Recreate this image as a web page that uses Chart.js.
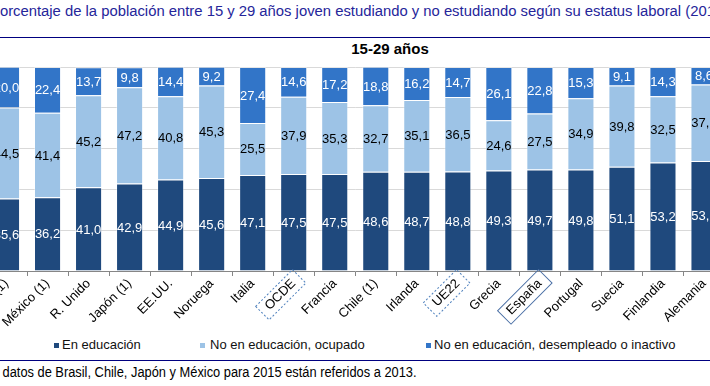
<!DOCTYPE html>
<html><head><meta charset="utf-8">
<script src="https://cdn.jsdelivr.net/npm/chart.js@4.4.1/dist/chart.umd.min.js"></script>
<style>
html,body{margin:0;padding:0;background:#fff;overflow:hidden;width:710px;height:386px;position:relative;font-family:"Liberation Sans",Arial,sans-serif}
#wrap{position:absolute;left:-80px;top:0;width:940px;height:330px}
.abs{position:absolute;white-space:nowrap}
.sq{position:absolute;width:5px;height:5px}
.lt{position:absolute;font-size:13px;color:#111;white-space:nowrap}
</style></head><body>
<div id="sub" class="abs" style="top:3px;left:0;color:#25259a;font-size:14px;transform-origin:0 0"><span class="pre">P</span><span class="vis">orcentaje de la población entre 15 y 29 años joven estudiando y no estudiando según su estatus laboral (201</span><span>5)</span></div>
<div class="abs" style="left:0;top:37px;width:710px;height:1px;background:#000080"></div>
<div class="abs" style="left:0;top:40px;width:780px;text-align:center;font-weight:bold;font-size:15px;color:#000">15-29 años</div>
<div id="wrap"><canvas id="c" width="940" height="330"></canvas></div>
<div id="legend"></div>
<div class="abs" style="left:0;top:360px;width:710px;height:1px;background:#000080"></div>
<div id="foot" class="abs" style="top:364px;left:0;color:#000;font-size:14px;transform-origin:0 0"><span class="pre">(1) Los </span><span class="vis">datos de Brasil, Chile, Japón y México para 2015 están referidos a 2013.</span></div>
<script>
const categories = ["Brasil (1)","México (1)","R. Unido","Japón (1)","EE.UU.","Noruega","Italia","OCDE","Francia","Chile (1)","Irlanda","UE22","Grecia","España","Portugal","Suecia","Finlandia","Alemania"];
const enEducacion = [35.6,36.2,41.0,42.9,44.9,45.6,47.1,47.5,47.5,48.6,48.7,48.8,49.3,49.7,49.8,51.1,53.2,53.9];
const noEducOcupado = [44.5,41.4,45.2,47.2,40.8,45.3,25.5,37.9,35.3,32.7,35.1,36.5,24.6,27.5,34.9,39.8,32.5,37.5];
const noEducDesempleado = [20.0,22.4,13.7,9.8,14.4,9.2,27.4,14.6,17.2,18.8,16.2,14.7,26.1,22.8,15.3,9.1,14.3,8.6];
const seriesNames = ["En educación","No en educación, ocupado","No en educación, desempleado o inactivo"];
const seriesColors = ["#1F497D","#9DC3E6","#3275C8"];
const labelColors = ["#ffffff","#000000","#ffffff"];
const dashedBoxes = ["OCDE","UE22"];
const solidBoxes = ["España"];
const FONT = '"Liberation Sans", Arial, sans-serif';

// fit texts using DOM measurement
function fitText(id, targetLeft, targetWidth){
  const el = document.getElementById(id);
  const wp = el.querySelector('.pre').getBoundingClientRect().width;
  const wv = el.querySelector('.vis').getBoundingClientRect().width;
  const s = targetWidth / wv;
  el.style.transform = 'scaleX(' + s + ')';
  el.style.left = (targetLeft - wp * s) + 'px';
}
fitText('sub', 0, 715);
fitText('foot', 3, 414);

// legend
const legPos = [[54,62],[200,210],[426,434]];
const leg = document.getElementById('legend');
seriesNames.forEach((n,i)=>{
  const s = document.createElement('div'); s.className='sq';
  s.style.left = legPos[i][0]+'px'; s.style.top='343px'; s.style.background=seriesColors[i];
  const t = document.createElement('div'); t.className='lt';
  t.style.left = legPos[i][1]+'px'; t.style.top='337px'; t.textContent=n;
  leg.appendChild(s); leg.appendChild(t);
});

const valueLabels = {
  id:'valueLabels',
  afterDatasetsDraw(chart){
    const ctx = chart.ctx;
    ctx.save();
    ctx.font = '13px ' + FONT;
    ctx.textAlign = 'center';
    ctx.textBaseline = 'middle';
    chart.data.datasets.forEach((ds,i)=>{
      const meta = chart.getDatasetMeta(i);
      ctx.fillStyle = labelColors[i];
      meta.data.forEach((bar,j)=>{
        const v = ds.data[j];
        if (v == null) return;
        const p = bar.getProps(['x','y','base'], true);
        ctx.fillText(v.toFixed(1).replace('.',','), p.x, (p.y + p.base)/2 + 1);
      });
    });
    ctx.restore();
  }
};

const labelBoxes = {
  id:'labelBoxes',
  afterDraw(chart){
    const scale = chart.scales.x;
    const items = scale.getLabelItems(chart.chartArea);
    const ctx = chart.ctx;
    items.forEach(it=>{
      const lab = it.label;
      const dashed = dashedBoxes.includes(lab);
      const solid = solidBoxes.includes(lab);
      if (!dashed && !solid) return;
      const o = it.options;
      ctx.save();
      ctx.font = it.font.string;
      const w = ctx.measureText(lab).width;
      const h = it.font.lineHeight;
      ctx.translate(o.translation[0], o.translation[1]);
      ctx.rotate(o.rotation);
      let x0;
      if (o.textAlign === 'right') x0 = -w; else if (o.textAlign === 'center') x0 = -w/2; else x0 = 0;
      let y0;
      const off = it.textOffset;
      if (o.textBaseline === 'middle') y0 = off - h/2; else if (o.textBaseline === 'top') y0 = off; else y0 = off - h;
      ctx.strokeStyle = dashed ? '#4F81BD' : '#4a6fa5';
      ctx.lineWidth = 1;
      if (dashed) ctx.setLineDash([2,2]);
      ctx.strokeRect(Math.round(x0 - 7)+0.5, Math.round(y0 - 2)+0.5, Math.round(w + 14), Math.round(h + 3));
      ctx.restore();
    });
  }
};

new Chart(document.getElementById('c'), {
  type:'bar',
  data:{
    labels: categories,
    datasets: [enEducacion, noEducOcupado, noEducDesempleado].map((d,i)=>({
      label: seriesNames[i], data: d, backgroundColor: seriesColors[i],
      borderColor: 'rgba(255,255,255,0.35)', borderWidth: 1,
      categoryPercentage: 1, barPercentage: 0.66
    }))
  },
  options:{
    responsive:false, animation:false,
    layout:{padding:{left:66,right:135.5,top:67,bottom:0}},
    plugins:{legend:{display:false}, title:{display:false}, tooltip:{enabled:false}},
    scales:{
      x:{
        stacked:true,
        grid:{offset:true, drawOnChartArea:false, tickLength:5, color:'#868686'},
        border:{color:'#868686'},
        ticks:{autoSkip:false, minRotation:45, maxRotation:45, color:'#000', font:{size:13, family:FONT}, padding:0},
        afterFit(s){ s.height = 59; }
      },
      y:{
        stacked:true, min:0, max:100,
        ticks:{display:false, stepSize:20},
        grid:{color:'#d9d9d9', drawTicks:false},
        border:{display:false},
        afterFit(s){ s.width = 0; }
      }
    }
  },
  plugins:[valueLabels, labelBoxes]
});
</script>
</body></html>
